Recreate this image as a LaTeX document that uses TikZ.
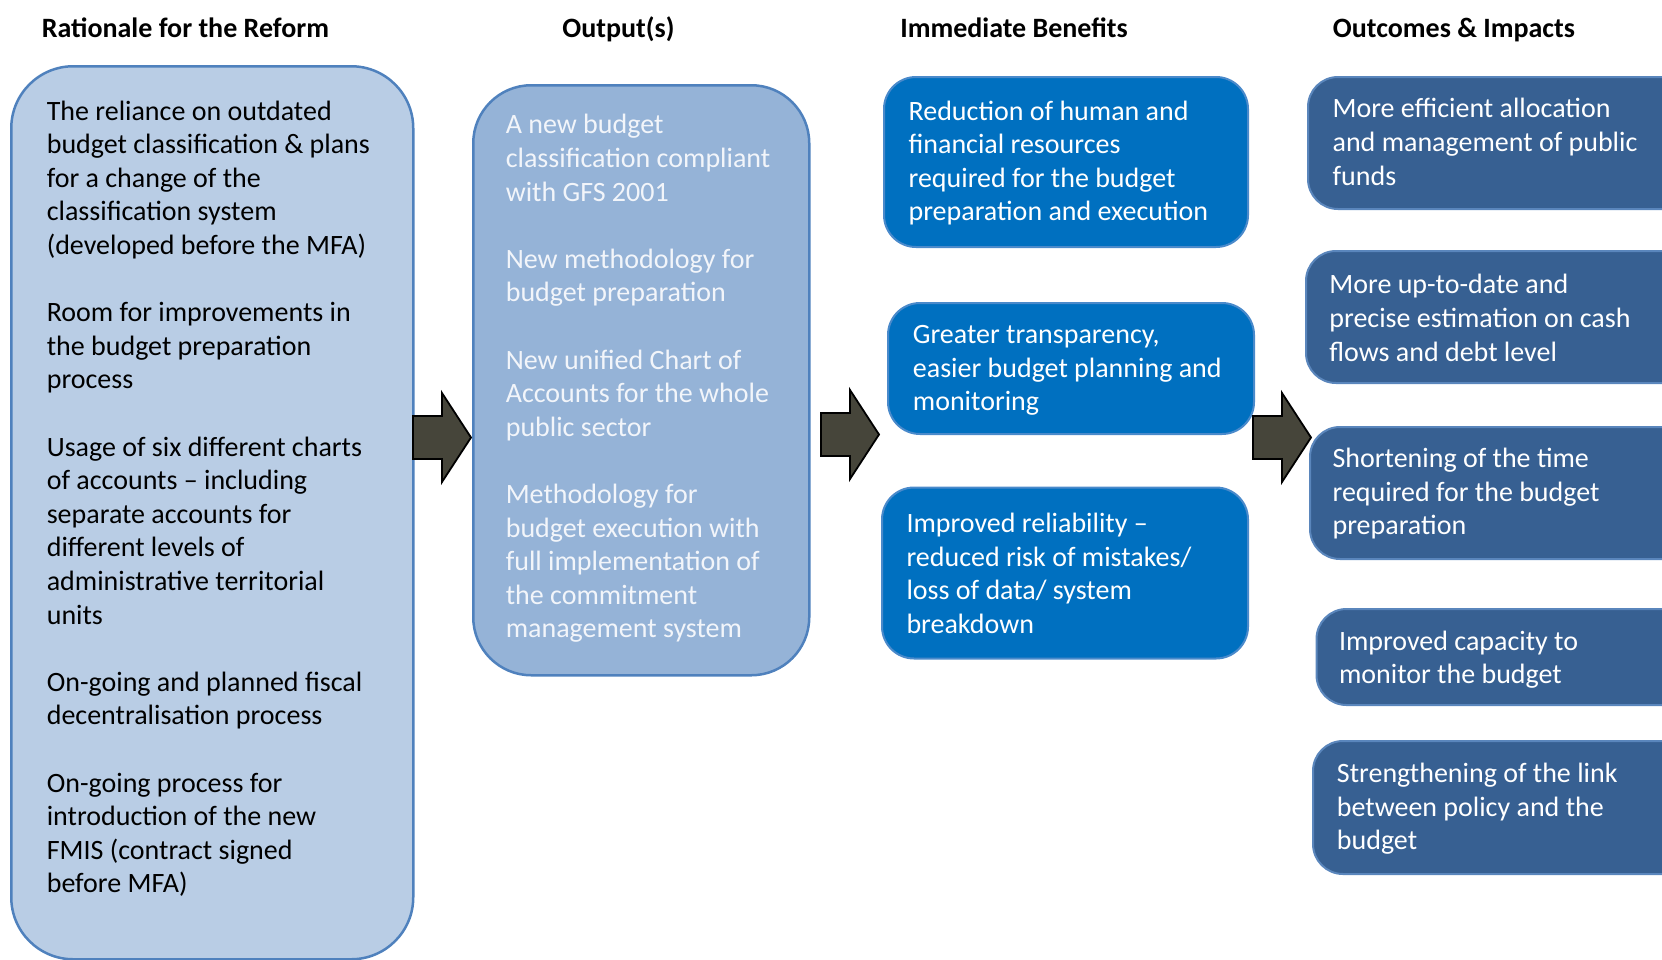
\documentclass[tikz,border=0pt]{standalone}
\usepackage{fontspec}
\setmainfont{Carlito}
\definecolor{ratfill}{HTML}{B9CDE5}
\definecolor{outfill}{HTML}{95B3D7}
\definecolor{edgeblue}{HTML}{4F81BD}
\definecolor{benfill}{HTML}{0070C0}
\definecolor{benedge}{HTML}{4A8ACB}
\definecolor{impfill}{HTML}{376092}
\definecolor{impedge}{HTML}{5A86BC}
\definecolor{arrowfill}{HTML}{46453A}
\definecolor{paletext}{HTML}{F2F5FA}
\begin{document}
\begin{tikzpicture}[x=1pt,y=-1pt,
  heading/.style={anchor=base, inner sep=0, font=\fontsize{28}{34}\selectfont\bfseries},
  body/.style={anchor=base west, inner sep=0, yshift=-3.3pt, font=\fontsize{28}{33.6}\selectfont},
  panel/.style={rectangle, anchor=north west, line width=2.5pt, draw=edgeblue},
  ratbox/.style={panel, fill=ratfill, rounded corners=62pt},
  outbox/.style={panel, fill=outfill, rounded corners=58pt},
  benbox/.style={rectangle, anchor=north west, fill=benfill, draw=benedge, line width=2pt, rounded corners=32pt},
  impbox/.style={rectangle, anchor=north west, fill=impfill, draw=impedge, line width=2pt, rounded corners=30pt},
  blockarrow/.pic={
    \draw[fill=arrowfill, draw=black, line width=1.8pt, line join=miter]
      (0,-21.5) -- (29,-21.5) -- (29,-44.5) -- (58,0) -- (29,44.5) -- (29,21.5) -- (0,21.5) -- cycle;
  }]
\useasboundingbox (0,0) rectangle (1662,959);
\clip (0,0) rectangle (1662,959);

% column headings
\node[heading] (h1) at (185.5,37) {Rationale for the Reform};
\node[heading] (h2) at (618.5,37) {Output(s)};
\node[heading] (h3) at (1014,37) {Immediate Benefits};
\node[heading] (h4) at (1454,37) {Outcomes \& Impacts};

% rationale panel
\node[ratbox, minimum width=402pt, minimum height=893pt] (rat) at (10,65) {};
\node[body, text=black] (ratText) at (46.6,116.7) {\parbox[t]{370pt}{\raggedright
The reliance on outdated\\
budget classification \& plans\\
for a change of the\\
classification system\\
(developed before the MFA)\\[33.6pt]
Room for improvements in\\
the budget preparation\\
process\\[33.6pt]
Usage of six different charts\\
of accounts – including\\
separate accounts for\\
different levels of\\
administrative territorial\\
units\\[33.6pt]
On-going and planned fiscal\\
decentralisation process\\[33.6pt]
On-going process for\\
introduction of the new\\
FMIS (contract signed\\
before MFA)}};

% outputs panel
\node[outbox, minimum width=336pt, minimum height=590pt] (out) at (472,84) {};
\node[body, text=paletext] (outText) at (505.6,130.5) {\parbox[t]{300pt}{\raggedright
A new budget\\
classification compliant\\
with GFS 2001\\[33.6pt]
New methodology for\\
budget preparation\\[33.6pt]
New unified Chart of\\
Accounts for the whole\\
public sector\\[33.6pt]
Methodology for\\
budget execution with\\
full implementation of\\
the commitment\\
management system}};

% immediate benefits
\node[benbox, minimum width=364pt, minimum height=170pt] (ben1) at (883,76) {};
\node[body, text=white] (ben1Text) at (908.4,116.7) {\parbox[t]{330pt}{\raggedright
Reduction of human and\\
financial resources\\
required for the budget\\
preparation and execution}};

\node[benbox, minimum width=366pt, minimum height=131pt] (ben2) at (887,302) {};
\node[body, text=white] (ben2Text) at (912.7,340.4) {\parbox[t]{330pt}{\raggedright
Greater transparency,\\
easier budget planning and\\
monitoring}};

\node[benbox, minimum width=366pt, minimum height=171pt] (ben3) at (881,486.5) {};
\node[body, text=white] (ben3Text) at (906.3,529.1) {\parbox[t]{330pt}{\raggedright
Improved reliability –\\
reduced risk of mistakes/\\
loss of data/ system\\
breakdown}};

% outcomes and impacts
\node[impbox, minimum width=420pt, minimum height=132pt] (imp1) at (1307,76) {};
\node[body, text=white] (imp1Text) at (1332.4,114.6) {\parbox[t]{320pt}{\raggedright
More efficient allocation\\
and management of public\\
funds}};

\node[impbox, minimum width=420pt, minimum height=132pt] (imp2) at (1305,250) {};
\node[body, text=white] (imp2Text) at (1329.2,290.6) {\parbox[t]{320pt}{\raggedright
More up-to-date and\\
precise estimation on cash\\
flows and debt level}};

\node[impbox, minimum width=420pt, minimum height=132pt] (imp3) at (1309,426) {};
\node[body, text=white] (imp3Text) at (1332.4,464.4) {\parbox[t]{320pt}{\raggedright
Shortening of the time\\
required for the budget\\
preparation}};

\node[impbox, minimum width=420pt, minimum height=96pt] (imp4) at (1315.5,608) {};
\node[body, text=white] (imp4Text) at (1338.8,646.7) {\parbox[t]{320pt}{\raggedright
Improved capacity to\\
monitor the budget}};

\node[impbox, minimum width=420pt, minimum height=133pt] (imp5) at (1312,740) {};
\node[body, text=white] (imp5Text) at (1336.7,779.2) {\parbox[t]{320pt}{\raggedright
Strengthening of the link\\
between policy and the\\
budget}};

% block arrows between the columns
\pic (arr1) at (413,437.5) {blockarrow};
\pic (arr2) at (821,434.5) {blockarrow};
\pic (arr3) at (1253,437.5) {blockarrow};
\end{tikzpicture}
\end{document}
